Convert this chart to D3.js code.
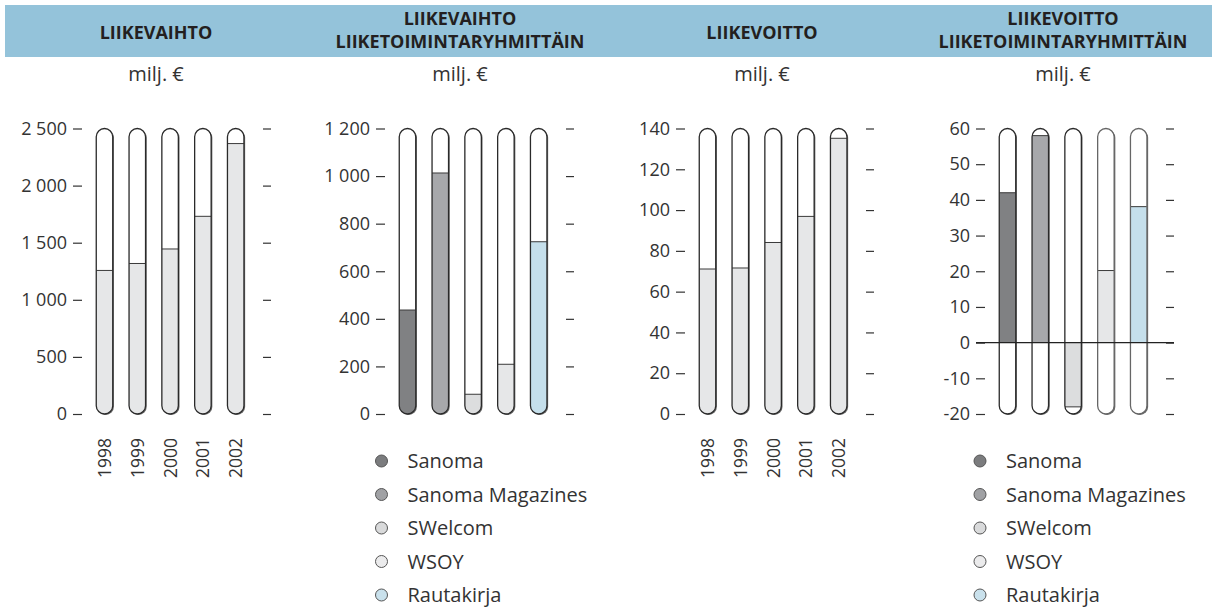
<!DOCTYPE html>
<html>
<head>
<meta charset="utf-8">
<script src="https://cdn.jsdelivr.net/npm/d3@7"></script>
<style>
	body { margin: 0; background: #fff; }
	svg { display: block; font-family: "Open Sans", "Noto Sans", sans-serif; }
</style>
</head>
<body>
<div id="wrapper"></div>
<script>
// --- data ---
const years = ["1998", "1999", "2000", "2001", "2002"];
const divisions = ["Sanoma", "Sanoma Magazines", "SWelcom", "WSOY", "Rautakirja"];

const revenue = [1257, 1318, 1445, 1731, 2368];
const revenueTicks = [0, 500, 1000, 1500, 2000, 2500];
const revenueTickLabels = ["0", "500", "1 000", "1 500", "2 000", "2 500"];

const revenueByDivision = [437, 1013, 83, 209, 724];
const divisionRevenueTicks = [0, 200, 400, 600, 800, 1000, 1200];
const divisionRevenueTickLabels = ["0", "200", "400", "600", "800", "1 000", "1 200"];

const operatingProfit = [71.1, 71.6, 84.1, 96.9, 135.2];
const profitTicks = [0, 20, 40, 60, 80, 100, 120, 140];
const profitTickLabels = ["0", "20", "40", "60", "80", "100", "120", "140"];

const profitByDivision = [42, 58, -18, 20.2, 38.1];
const divisionProfitTicks = [-20, -10, 0, 10, 20, 30, 40, 50, 60];
const divisionProfitTickLabels = ["-20", "-10", "0", "10", "20", "30", "40", "50", "60"];

const panelTitles = [
	["LIIKEVAIHTO"],
	["LIIKEVAIHTO", "LIIKETOIMINTARYHMITTÄIN"],
	["LIIKEVOITTO"],
	["LIIKEVOITTO", "LIIKETOIMINTARYHMITTÄIN"],
];
const unitLabel = "milj. €";

// --- styles ---
const yearFill = "#e6e7e8";
const divisionFills = ["#808183", "#a7a8ab", "#dcddde", "#e6e7e8", "#c5dfeb"];
const legendFills = ["#7b7c7e", "#a0a1a4", "#d9dadb", "#ebebec", "#c9e1ec"];

const width = 1216;
const height = 610;
const plotTop = 128.5;
const plotBottom = 414;
const barWidth = 16.5;
const barStep = 32.8;
const textColor = "#333";

const svg = d3
	.select("#wrapper")
	.append("svg")
	.attr("width", width)
	.attr("height", height)
	.attr("viewBox", `0 0 ${width} ${height}`);

const defs = svg.append("defs");

// header band
svg
	.append("rect")
	.attr("x", 5)
	.attr("y", 5)
	.attr("width", 1207)
	.attr("height", 52)
	.attr("fill", "#94c3da");

const panelCenters = [156, 460, 762, 1063];

panelTitles.forEach((lines, i) => {
	const t = svg
		.append("text")
		.attr("text-anchor", "middle")
		.attr("font-size", 18)
		.attr("font-weight", 700)
		.attr("fill", "#231f20");
	const baselines = lines.length === 1 ? [39] : [25, 48];
	lines.forEach((line, j) => {
		t.append("tspan")
			.attr("x", panelCenters[i])
			.attr("y", baselines[j])
			.text(line);
	});
	svg
		.append("text")
		.attr("x", panelCenters[i])
		.attr("y", 81)
		.attr("text-anchor", "middle")
		.attr("font-size", 20)
		.attr("fill", textColor)
		.text(unitLabel);
});

let clipId = 0;

function drawPanel({ axisX, domain, ticks, tickLabels, categories, values, fills, outlines, showCategories, zeroLine }) {
	const yScale = d3.scaleLinear().domain(domain).range([plotBottom, plotTop]);
	const xScale = d3
		.scalePoint()
		.domain(categories)
		.range([axisX + 22.5, axisX + 22.5 + barStep * (categories.length - 1)]);

	const labelOf = new Map(ticks.map((t, i) => [t, tickLabels[i]]));

	// left axis
	const yAxis = d3
		.axisLeft(yScale)
		.tickValues(ticks)
		.tickSize(9)
		.tickPadding(6)
		.tickFormat((d) => labelOf.get(d));
	const gy = svg.append("g").attr("transform", `translate(${axisX}, 0)`).call(yAxis);
	gy.select(".domain").remove();
	gy.selectAll("line").attr("stroke", "#333").attr("stroke-width", 1.2);
	gy.selectAll("text")
		.attr("font-size", 18)
		.attr("fill", textColor)
		.attr("font-family", '"Open Sans", "Noto Sans", sans-serif');

	// right ticks, no labels
	const rightAxis = d3.axisRight(yScale).tickValues(ticks).tickSize(8).tickFormat("");
	const gr = svg
		.append("g")
		.attr("transform", `translate(${axisX + 181}, 0)`)
		.call(rightAxis);
	gr.select(".domain").remove();
	gr.selectAll("line").attr("stroke", "#333").attr("stroke-width", 1.2);

	const [y0, y1] = [yScale(domain[1]), yScale(domain[0])];

	categories.forEach((cat, i) => {
		const cx = xScale(cat);
		const x = cx - barWidth / 2;
		const v = values[i];
		const id = `pill-${clipId++}`;

		defs
			.append("clipPath")
			.attr("id", id)
			.append("rect")
			.attr("x", x)
			.attr("y", y0)
			.attr("width", barWidth)
			.attr("height", y1 - y0)
			.attr("rx", barWidth / 2);

		// shadow
		svg
			.append("rect")
			.attr("x", x + 1.2)
			.attr("y", y0 + 1)
			.attr("width", barWidth)
			.attr("height", y1 - y0)
			.attr("rx", barWidth / 2)
			.attr("fill", "#6a6a6a");

		const g = svg.append("g").attr("clip-path", `url(#${id})`);
		g.append("rect")
			.attr("x", x)
			.attr("y", y0)
			.attr("width", barWidth)
			.attr("height", y1 - y0)
			.attr("fill", "#fff");
		g.append("rect")
			.attr("x", x)
			.attr("y", Math.min(yScale(v), yScale(0)))
			.attr("width", barWidth)
			.attr("height", Math.abs(yScale(0) - yScale(v)))
			.attr("fill", fills[i]);
		g.append("line")
			.attr("x1", x)
			.attr("x2", x + barWidth)
			.attr("y1", yScale(v))
			.attr("y2", yScale(v))
			.attr("stroke", "#3a3a3a")
			.attr("stroke-width", 1);

		svg
			.append("rect")
			.attr("x", x)
			.attr("y", y0)
			.attr("width", barWidth)
			.attr("height", y1 - y0)
			.attr("rx", barWidth / 2)
			.attr("fill", "none")
			.attr("stroke", outlines ? outlines[i] : "#2a2a2a")
			.attr("stroke-width", 1.3);

		if (showCategories) {
			svg
				.append("text")
				.attr("transform", `translate(${cx + 6.5}, 438) rotate(-90)`)
				.attr("text-anchor", "end")
				.attr("font-size", 17.5)
				.attr("fill", textColor)
				.text(cat);
		}
	});

	if (zeroLine) {
		svg
			.append("line")
			.attr("x1", axisX - 9)
			.attr("x2", axisX + 189)
			.attr("y1", yScale(0))
			.attr("y2", yScale(0))
			.attr("stroke", "#222")
			.attr("stroke-width", 1.2);
	}
}

function drawLegend(x, top) {
	divisions.forEach((name, i) => {
		const y = top + i * 33.5;
		svg
			.append("circle")
			.attr("cx", x)
			.attr("cy", y)
			.attr("r", 6)
			.attr("fill", legendFills[i])
			.attr("stroke", "#555")
			.attr("stroke-width", 1);
		svg
			.append("text")
			.attr("x", x + 26)
			.attr("y", y + 7)
			.attr("font-size", 20)
			.attr("fill", textColor)
			.text(name);
	});
}

drawPanel({
	axisX: 82,
	domain: [0, 2500],
	ticks: revenueTicks,
	tickLabels: revenueTickLabels,
	categories: years,
	values: revenue,
	fills: years.map(() => yearFill),
	showCategories: true,
});

drawPanel({
	axisX: 385,
	domain: [0, 1200],
	ticks: divisionRevenueTicks,
	tickLabels: divisionRevenueTickLabels,
	categories: divisions,
	values: revenueByDivision,
	fills: divisionFills,
	showCategories: false,
});

drawPanel({
	axisX: 685,
	domain: [0, 140],
	ticks: profitTicks,
	tickLabels: profitTickLabels,
	categories: years,
	values: operatingProfit,
	fills: years.map(() => yearFill),
	showCategories: true,
});

drawPanel({
	axisX: 985,
	domain: [-20, 60],
	ticks: divisionProfitTicks,
	tickLabels: divisionProfitTickLabels,
	categories: divisions,
	values: profitByDivision,
	fills: divisionFills,
	outlines: ["#2a2a2a", "#2a2a2a", "#2a2a2a", "#666", "#666"],
	showCategories: false,
	zeroLine: true,
});

drawLegend(381.5, 461);
drawLegend(980, 461);
</script>
</body>
</html>
